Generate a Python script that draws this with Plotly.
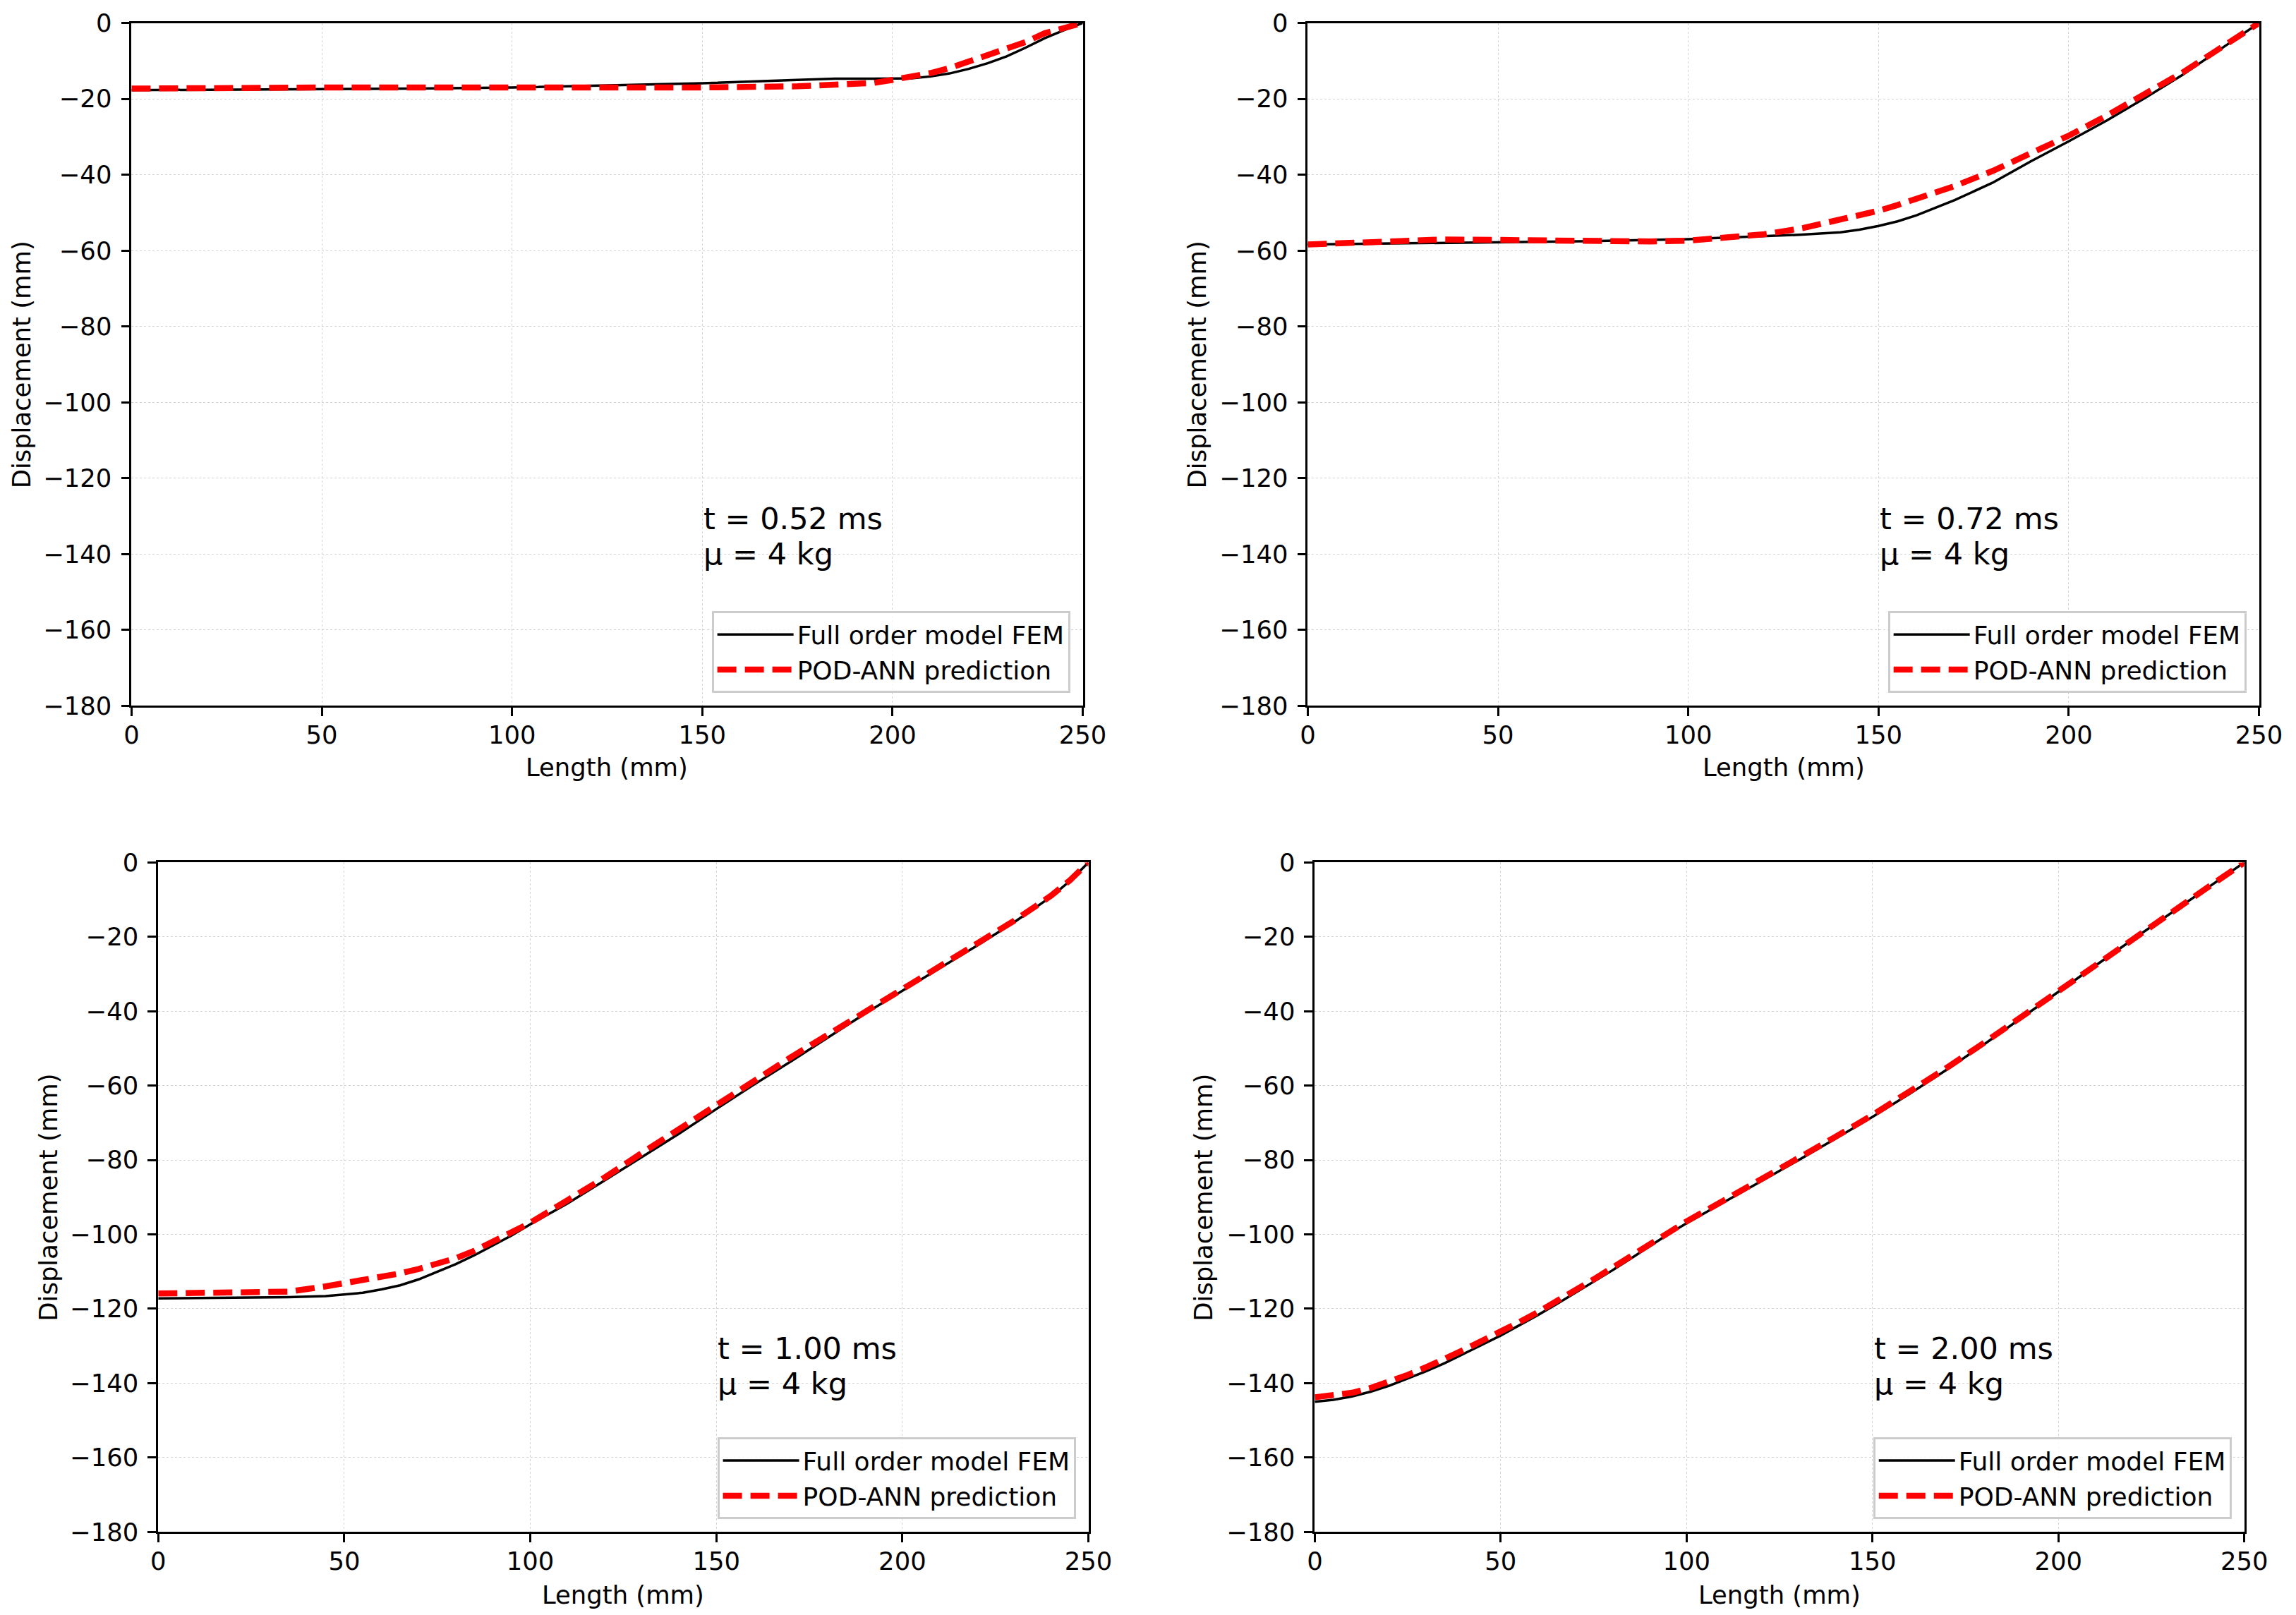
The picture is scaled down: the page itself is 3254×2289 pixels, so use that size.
import plotly.graph_objects as go

# ---------------- data ----------------
x1 = [0, 25, 50, 75, 100, 125, 150, 175, 185, 195, 200, 205, 210, 215, 220, 225, 230, 235, 240, 245, 250]
fem1 = [-17.7, -17.6, -17.4, -17.3, -17.0, -16.5, -15.9, -15.0, -14.7, -14.7, -14.7, -14.6, -14.1, -13.3,
        -12.1, -10.6, -8.8, -6.5, -4.0, -1.9, 0]
pred1 = [-17.3, -17.0, -17.0, -17.0, -17.1, -17.1, -17.0, -16.7, -16.3, -15.8, -15.0, -14.2, -13.2, -11.9,
         -10.1, -8.2, -6.6, -5.0, -2.7, -1.3, 0]

x2 = [0, 10, 20, 35, 50, 75, 90, 100, 110, 120, 130, 140, 145, 150, 155, 160, 170, 180, 190, 200, 210,
      220, 230, 240, 250]
fem2 = [-58.4, -58.3, -58.1, -58.0, -57.9, -57.5, -57.2, -57.0, -56.6, -56.2, -55.8, -55.2, -54.5, -53.5,
        -52.3, -50.7, -46.7, -42.1, -36.5, -31.2, -25.7, -19.8, -13.6, -6.8, 0]
pred2 = [-58.4, -58.0, -57.6, -57.1, -57.2, -57.5, -57.6, -57.4, -56.6, -55.7, -54.1, -51.9, -50.8, -49.5,
         -48.0, -46.4, -43.0, -39.0, -34.3, -29.7, -24.4, -18.9, -13.0, -6.5, 0]

x3 = [0, 25, 35, 45, 55, 60, 65, 70, 75, 80, 85, 90, 95, 100, 110, 120, 130, 140, 150, 160, 170, 180,
      190, 200, 210, 220, 230, 240, 245, 250]
fem3 = [-117.2, -117.1, -116.9, -116.6, -115.7, -114.8, -113.7, -112.1, -110.0, -108.0, -105.6, -103.0,
        -100.3, -97.3, -91.7, -85.5, -79.2, -72.9, -66.3, -59.8, -53.5, -47.1, -40.6, -34.5, -28.4, -22.4,
        -16.1, -9.2, -5.0, 0]
pred3 = [-115.9, -115.8, -115.4, -114.0, -112.4, -111.6, -110.5, -109.3, -107.9, -106.4, -104.4, -102.0,
         -99.6, -96.9, -90.8, -84.7, -78.1, -71.6, -65.0, -58.9, -52.4, -46.3, -40.2, -34.0, -27.9, -21.8,
         -15.7, -8.9, -4.8, 0]

x4 = [0, 5, 10, 15, 20, 25, 30, 35, 40, 45, 50, 55, 60, 65, 70, 75, 80, 85, 90, 95, 100, 110, 120, 130,
      140, 150, 160, 170, 180, 190, 200, 210, 220, 230, 240, 245, 250]
fem4 = [-145.0, -144.5, -143.6, -142.3, -140.7, -138.8, -136.8, -134.6, -132.2, -129.7, -127.2, -124.5,
        -121.7, -118.8, -115.8, -112.8, -109.7, -106.5, -103.2, -100.0, -97.0, -91.4, -85.8, -80.1, -74.3,
        -68.4, -62.2, -55.7, -48.9, -41.9, -34.8, -27.7, -20.7, -13.8, -7.0, -3.5, 0]
pred4 = [-143.8, -143.4, -142.6, -141.3, -139.7, -137.8, -135.7, -133.5, -131.1, -128.6, -126.2, -123.6,
         -120.9, -118.1, -115.2, -112.1, -109.0, -105.9, -102.6, -99.5, -96.5, -90.9, -85.3, -79.6, -73.8,
         -67.9, -61.7, -55.2, -48.5, -41.5, -34.4, -27.4, -20.4, -13.5, -6.8, -3.4, 0]

times = ["t = 0.52 ms", "t = 0.72 ms", "t = 1.00 ms", "t = 2.00 ms"]
mass_label = "\u03bc = 4 kg"
x_ticks = [0, 50, 100, 150, 200, 250]
y_ticks = [0, -20, -40, -60, -80, -100, -120, -140, -160, -180]
name_fem = "Full order model FEM"
name_pred = "POD-ANN prediction"
x_title = "Length (mm)"
y_title = "Displacement (mm)"

# ---------------- layout geometry ----------------
W, H = 3254, 2289
# compensation for how the page is photographed (measured from a test render)
SX, AX = 0.9897, 17.0
SY, AY = 0.9855, 26.4


def px(v):
    return (v - AX) / SX


def py(v):
    return (v - AY) / SY


# target (left, right, top, bottom) of each plot area in the final picture
boxes = [(185, 1538, 30, 1001), (1858, 3211, 30, 1001),
         (223, 1546, 1224, 2176), (1868, 3190, 1224, 2176)]
ytitle_x = [28, 1700, 67, 1710]
xtitle_dy = [88, 88, 90, 90]

FONT = "DejaVu Sans"
TICK = 35.4
ANN = 43.0

fig = go.Figure()
series = [(x1, fem1, pred1), (x2, fem2, pred2), (x3, fem3, pred3), (x4, fem4, pred4)]

layout = dict(width=W, height=H, autosize=False, margin=dict(l=0, r=0, t=0, b=0),
              paper_bgcolor="white", plot_bgcolor="white",
              font=dict(family=FONT, size=TICK, color="black"))
annotations = []

for i, ((xs, fem, pred), (l, r, t, b)) in enumerate(zip(series, boxes)):
    k = "" if i == 0 else str(i + 1)
    xa, ya = "x" + k, "y" + k
    lg = "legend" + k
    fig.add_trace(go.Scatter(x=xs, y=fem, mode="lines", name=name_fem, xaxis=xa, yaxis=ya,
                             legend=lg, line=dict(color="black", width=3.5)))
    fig.add_trace(go.Scatter(x=xs, y=pred, mode="lines", name=name_pred, xaxis=xa, yaxis=ya,
                             legend=lg, line=dict(color="#ff0000", width=8.5, dash="27px,12px")))

    L, R, T, B = px(l), px(r), py(t), py(b)
    common = dict(showline=True, mirror=True, linecolor="black", linewidth=2.8,
                  ticks="outside", ticklen=12, tickwidth=2.8, tickcolor="black",
                  showgrid=True, gridcolor="#d2d2d2", gridwidth=1.4, griddash="dot",
                  zeroline=False, tickfont=dict(family=FONT, size=TICK, color="black"),
                  fixedrange=True)
    layout["xaxis" + k] = dict(common, domain=[L / W, R / W], range=[0, 250], anchor=ya,
                               tickmode="array", tickvals=x_ticks, ticklabelstandoff=-4)
    layout["yaxis" + k] = dict(common, domain=[1 - B / H, 1 - T / H], range=[-180, 0], anchor=xa,
                               tickmode="array", tickvals=y_ticks, ticklabelstandoff=6)

    layout[lg] = dict(x=px(r - 18) / W, y=1 - py(b - 18) / H, xanchor="right", yanchor="bottom",
                      xref="paper", yref="paper",
                      bgcolor="rgba(255,255,255,0.8)", bordercolor="#cccccc", borderwidth=3,
                      font=dict(family=FONT, size=36, color="black"), itemwidth=108,
                      tracegroupgap=0)

    # axis titles
    annotations.append(dict(text=x_title, xref="paper", yref="paper", x=px((l + r) / 2) / W,
                            y=1 - py(b + xtitle_dy[i]) / H, xanchor="center", yanchor="middle",
                            showarrow=False, font=dict(family=FONT, size=TICK)))
    annotations.append(dict(text=y_title, xref="paper", yref="paper", x=px(ytitle_x[i]) / W,
                            y=1 - py((t + b) / 2) / H, xanchor="center", yanchor="middle",
                            textangle=-90, showarrow=False, font=dict(family=FONT, size=TICK)))
    # info text
    annotations.append(dict(text=times[i], xref=xa, yref=ya, x=150, y=-130.6, xanchor="left",
                            yanchor="middle", showarrow=False, font=dict(family=FONT, size=ANN)))
    annotations.append(dict(text=mass_label, xref=xa, yref=ya, x=150, y=-130.6, yshift=-50,
                            xanchor="left", yanchor="middle", showarrow=False,
                            font=dict(family=FONT, size=ANN)))

layout["annotations"] = annotations
layout["showlegend"] = True
fig.update_layout(**layout)

fig.write_html("out.html")
